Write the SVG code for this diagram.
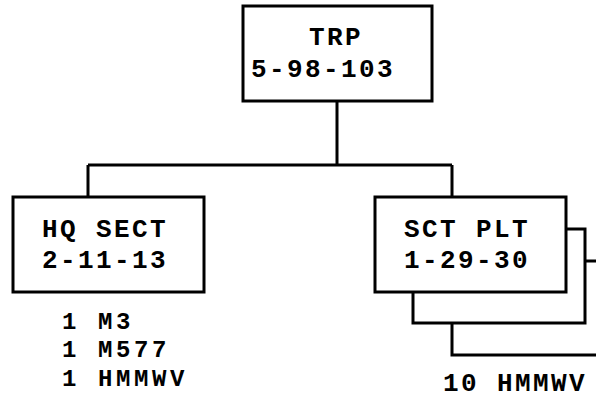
<svg xmlns="http://www.w3.org/2000/svg" width="596" height="399" viewBox="0 0 596 399">
<style>
.box{fill:#fff;stroke:#000;stroke-width:3}
.ln{fill:none;stroke:#000;stroke-width:3}
text{font-family:"Liberation Mono","Courier New",monospace;font-weight:bold;font-size:26px;letter-spacing:2.4px;fill:#000}
text.it{font-size:24px;letter-spacing:3.6px}
</style>
<rect width="596" height="399" fill="#fff"/>
<g id="connectors">
<path class="ln" d="M337,101 V165 M88,165 H452 M88,165 V197 M452,165 V197"/>
</g>
<g id="trp">
<rect class="box" x="243" y="6" width="189" height="95"/>
<text x="309" y="45">TRP</text>
<text x="251" y="77">5-98-103</text>
</g>
<g id="hq-sect">
<rect class="box" x="13" y="197" width="191" height="95"/>
<text x="42" y="237">HQ SECT</text>
<text x="42" y="268">2-11-13</text>
<text class="it" x="62" y="329">1 M3</text>
<text class="it" x="62" y="357">1 M577</text>
<text class="it" x="62" y="386">1 HMMWV</text>
</g>
<g id="sct-plt">
<rect class="box" x="452" y="261" width="160" height="94"/>
<rect class="box" x="413" y="229" width="172" height="94"/>
<rect class="box" x="375" y="197" width="191" height="95"/>
<text x="404" y="237">SCT PLT</text>
<text x="404" y="268">1-29-30</text>
<text x="443" y="391">10 HMMWV</text>
</g>
</svg>
